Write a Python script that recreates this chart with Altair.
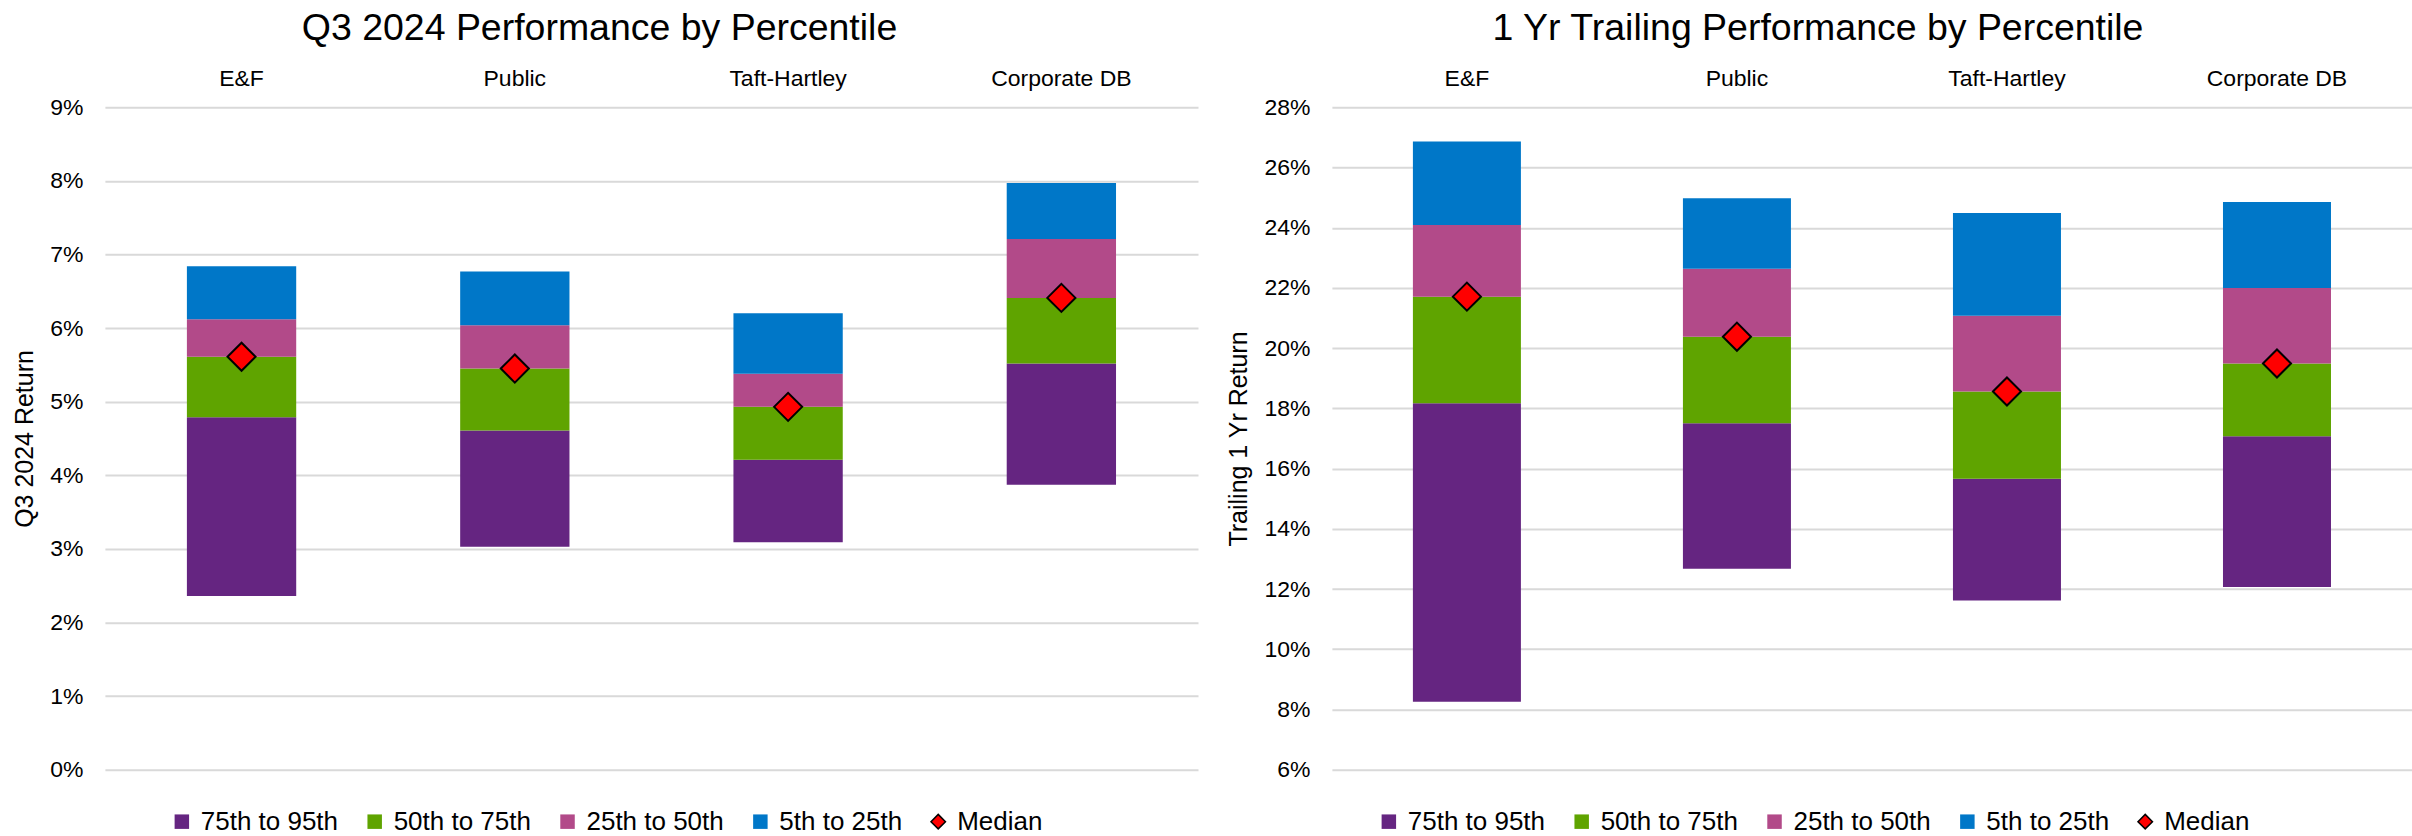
import altair as alt
import pandas as pd

FONT = "Liberation Sans"

groups = ["E&F", "Public", "Taft-Hartley", "Corporate DB"]
series = ["75th to 95th", "50th to 75th", "25th to 50th", "5th to 25th", "Median"]
colors = ["#652581", "#5FA400", "#B24A89", "#0077C8", "#FF0000"]
shapes = ["square", "square", "square", "square", "diamond"]

# Q3 2024 returns (%) by percentile
q3_p5 = [6.84, 6.77, 6.20, 7.97]
q3_p25 = [6.12, 6.04, 5.38, 7.21]
q3_p50 = [5.61, 5.45, 4.93, 6.41]
q3_p75 = [4.79, 4.61, 4.21, 5.52]
q3_p95 = [2.36, 3.03, 3.09, 3.87]
q3_ticks = [0, 1, 2, 3, 4, 5, 6, 7, 8, 9]

# Trailing 1 year returns (%) by percentile
yr_p5 = [26.86, 24.98, 24.49, 24.85]
yr_p25 = [24.09, 22.64, 21.08, 22.00]
yr_p50 = [21.71, 20.38, 18.56, 19.49]
yr_p75 = [18.17, 17.51, 15.66, 17.07]
yr_p95 = [8.26, 12.67, 11.62, 12.07]
yr_ticks = [6, 8, 10, 12, 14, 16, 18, 20, 22, 24, 26, 28]


def segments(p95, p75, p50, p25, p5):
    edges = [p95, p75, p50, p25, p5]
    rows = []
    for i, g in enumerate(groups):
        for k in range(4):
            rows.append({"group": g, "series": series[k],
                         "lo": edges[k][i], "hi": edges[k + 1][i]})
    return pd.DataFrame(rows)


def medians(p50):
    return pd.DataFrame({"group": groups, "series": ["Median"] * len(groups), "value": p50})


def panel(title, y_title, ticks, bars, meds, width, legend_x, title_dx):
    legend = alt.Legend(
        title=None, orient="none", legendX=legend_x, legendY=702,
        direction="horizontal", labelFontSize=26, labelFont=FONT, labelColor="black",
        symbolSize=210, symbolType="square", labelOffset=6, columnPadding=23, padding=0,
        symbolStrokeColor=alt.ExprRef("datum.value === 'Median' ? 'black' : 'transparent'"),
        symbolStrokeWidth=1.5,
    )
    x = alt.X("group:N", sort=groups,
              scale=alt.Scale(paddingInner=0.6, paddingOuter=0.3),
              axis=alt.Axis(orient="top", title=None, labelAngle=0, domain=False,
                            ticks=False, tickSize=0, labelPadding=17, labelFontSize=23,
                            labelFont=FONT, labelColor="black", grid=False))
    yscale = alt.Scale(domain=[ticks[0], ticks[-1]], nice=False, zero=False)
    yaxis = alt.Axis(title=y_title, values=ticks, labelExpr="datum.value + '%'",
                     domain=False, ticks=False, tickSize=0, labelPadding=22,
                     labelFontSize=23, labelFont=FONT, labelColor="black",
                     titleFontSize=25, titleFont=FONT, titleFontWeight="normal",
                     titleColor="black", titlePadding=12,
                     grid=True, gridColor="#D9D9D9", gridWidth=2)
    color = alt.Color("series:N", scale=alt.Scale(domain=series, range=colors), legend=legend)
    shape = alt.Shape("series:N", scale=alt.Scale(domain=series, range=shapes), legend=legend)

    bar_layer = alt.Chart(bars).mark_bar().encode(
        x=x,
        y=alt.Y("lo:Q", scale=yscale, axis=yaxis),
        y2="hi:Q",
        color=color,
    )
    med_layer = alt.Chart(meds).mark_point(
        filled=True, stroke="black", strokeWidth=2, size=790, opacity=1
    ).encode(
        x=x,
        y=alt.Y("value:Q", scale=yscale, axis=yaxis),
        color=color,
        shape=shape,
    )
    return alt.layer(bar_layer, med_layer).properties(
        width=width, height=663,
        title=alt.TitleParams(text=title, fontSize=37.5, font=FONT, fontWeight="normal",
                              color="black", anchor="middle", dx=title_dx, offset=20),
    )


left = panel("Q3 2024 Performance by Percentile", "Q3 2024 Return", q3_ticks,
             segments(q3_p95, q3_p75, q3_p50, q3_p25, q3_p5), medians(q3_p50),
             1094, 64, -52)
right = panel("1 Yr Trailing Performance by Percentile", "Trailing 1 Yr Return", yr_ticks,
              segments(yr_p95, yr_p75, yr_p50, yr_p25, yr_p5), medians(yr_p50),
              1081, 44, -54)

chart = alt.hconcat(left, right, spacing=28).resolve_scale(
    y="independent", color="independent", shape="independent"
).resolve_legend(color="independent", shape="independent").properties(
    padding={"left": 12, "top": 9, "right": 0, "bottom": 0},
    background="white",
).configure_view(stroke=None)

chart.save("out.html", embed_options={"renderer": "svg", "actions": False})
